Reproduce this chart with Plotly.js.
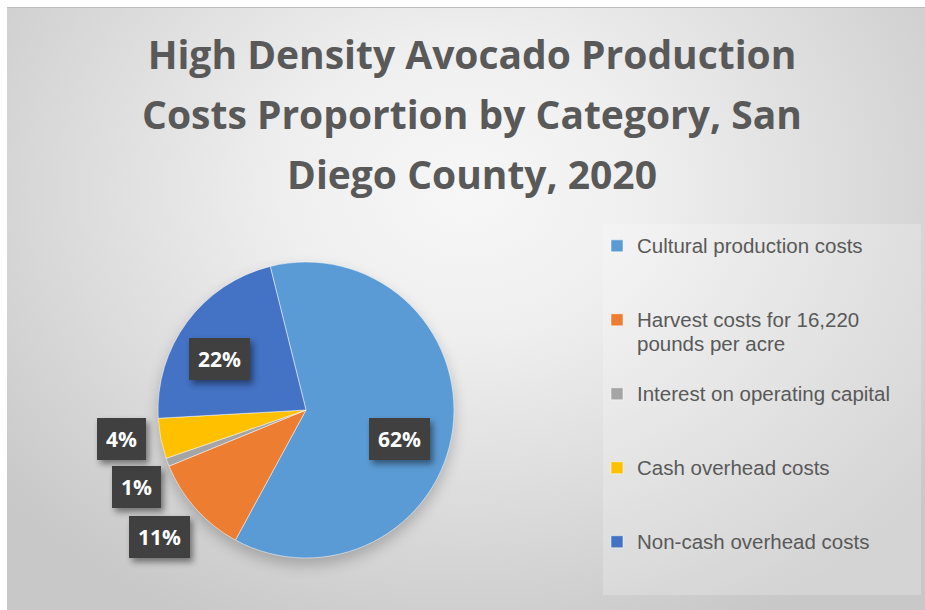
<!DOCTYPE html>
<html>
<head>
<meta charset="utf-8">
<script src="https://cdn.plot.ly/plotly-3.0.1.min.js"></script>
<style>
html,body{margin:0;padding:0;background:#ffffff;}
#wrap{position:absolute;left:0;top:0;width:925px;height:610px;overflow:hidden;}
#bg{position:absolute;left:7px;top:7px;width:918px;height:603px;border-top:1px solid #bcbcbc;
  background: radial-gradient(ellipse 65% 80% at 50% 30%, #f7f7f7 0%, #efefef 30%, #dcdcdc 65%, #c8c8c8 100%);}
#chart{position:absolute;left:0;top:0;width:925px;height:610px;}
.pielayer .trace{filter:drop-shadow(0px 7px 7px rgba(0,0,0,0.22));}
.annotation .bg{filter:drop-shadow(3px 4px 3px rgba(0,0,0,0.45));}
</style>
</head>
<body>
<div id="wrap"><div id="bg"></div><div id="chart"></div></div>
<script>
// ---- data ----
const categories = [
  "Cultural production costs",
  "Harvest costs for 16,220 pounds per acre",
  "Interest on operating capital",
  "Cash overhead costs",
  "Non-cash overhead costs"
];
const legendLabels = [
  "Cultural production costs",
  "Harvest costs for 16,220<br>pounds per acre",
  "Interest on operating capital",
  "Cash overhead costs",
  "Non-cash overhead costs"
];
const shares = [61.8, 10.9, 0.9, 4.4, 22.0];
const titleLines = [
  "High Density Avocado Production",
  "Costs Proportion by Category, San",
  "Diego County, 2020"
];

// ---- style / layout ----
const sliceColors = ['#5B9BD5', '#ED7D31', '#A5A5A5', '#FFC000', '#4472C4'];
const W = 925, H = 610;
const pieCx = 306, pieCy = 410, pieR = 148;
const startRotation = -14;
const labelRadius = [0.66, 1.31, 1.26, 1.26, 0.68];
const labelNudge = [10, 1, -3.7, 2.1, -5.9];
const legendLines = 3;
const titleSize = 39;         // glyph size
const titleLineSize = 46;     // base size -> line spacing 1.3*46 ≈ 60px
const legendGlyph = 20.5;     // glyph size of legend text
const legendLineSize = 18.2;  // base size -> item spacing ≈ 74px

const paddedLabels = legendLabels.map(l => {
  const parts = l.split('<br>');
  while (parts.length < legendLines) parts.push(' ');
  return parts.map(p => '<span style="font-size:' + legendGlyph + 'px">' + p + '</span>').join('<br>');
});

const titleText = titleLines
  .map(t => '<span style="font-size:' + titleSize + 'px">' + t + '</span>')
  .join('<br>');

const total = shares.reduce((a, b) => a + b, 0);
const annotations = [];
let cum = 0;
shares.forEach((v, i) => {
  const mid = startRotation + (cum + v / 2) / total * 360;
  cum += v;
  const a = (mid + labelNudge[i]) * Math.PI / 180;
  const d = labelRadius[i] * pieR;
  const px = pieCx + d * Math.sin(a);
  const py = pieCy - d * Math.cos(a);
  annotations.push({
    xref: 'paper', yref: 'paper',
    x: px / W, y: 1 - py / H,
    xanchor: 'center', yanchor: 'middle',
    showarrow: false,
    text: Math.round(v / total * 100) + '%',
    font: {family: 'Open Sans', size: 21, color: '#ffffff', weight: 'bold'},
    bgcolor: '#404040',
    borderpad: 9,
    height: 24,
    borderwidth: 0
  });
});

const trace = {
  type: 'pie',
  labels: paddedLabels,
  values: shares,
  sort: false,
  direction: 'clockwise',
  rotation: startRotation,
  marker: {colors: sliceColors, line: {color: '#ffffff', width: 0.5}},
  textinfo: 'none',
  textposition: 'none',
  hoverinfo: 'percent',
  automargin: false,
  domain: {
    x: [(pieCx - pieR) / W, (pieCx + pieR) / W],
    y: [(H - pieCy - pieR) / H, (H - pieCy + pieR) / H]
  }
};

const layout = {
  width: W, height: H,
  margin: {l: 0, r: 0, t: 0, b: 0, autoexpand: false},
  paper_bgcolor: 'rgba(0,0,0,0)',
  plot_bgcolor: 'rgba(0,0,0,0)',
  title: {
    text: titleText,
    font: {family: 'Open Sans', size: titleLineSize, color: '#595959', weight: 'bold'},
    x: 472 / W, xanchor: 'center', xref: 'paper',
    y: 1 - 69 / H, yanchor: 'top', yref: 'container'
  },
  showlegend: true,
  legend: {
    x: 597 / W, xanchor: 'left',
    y: 1 - 227.5 / H, yanchor: 'top',
    bgcolor: 'rgba(0,0,0,0)',
    font: {family: 'Liberation Sans', size: legendLineSize, color: '#595959'},
    valign: 'top',
    traceorder: 'normal'
  },
  shapes: [{
    type: 'rect', xref: 'paper', yref: 'paper', layer: 'below',
    x0: 603 / W, x1: 921 / W, y0: 1 - 595 / H, y1: 1 - 224 / H,
    fillcolor: 'rgba(255,255,255,0.22)', line: {width: 0}
  }],
  annotations: annotations
};

Plotly.newPlot('chart', [trace], layout, {displayModeBar: false, staticPlot: true});
</script>
</body>
</html>
